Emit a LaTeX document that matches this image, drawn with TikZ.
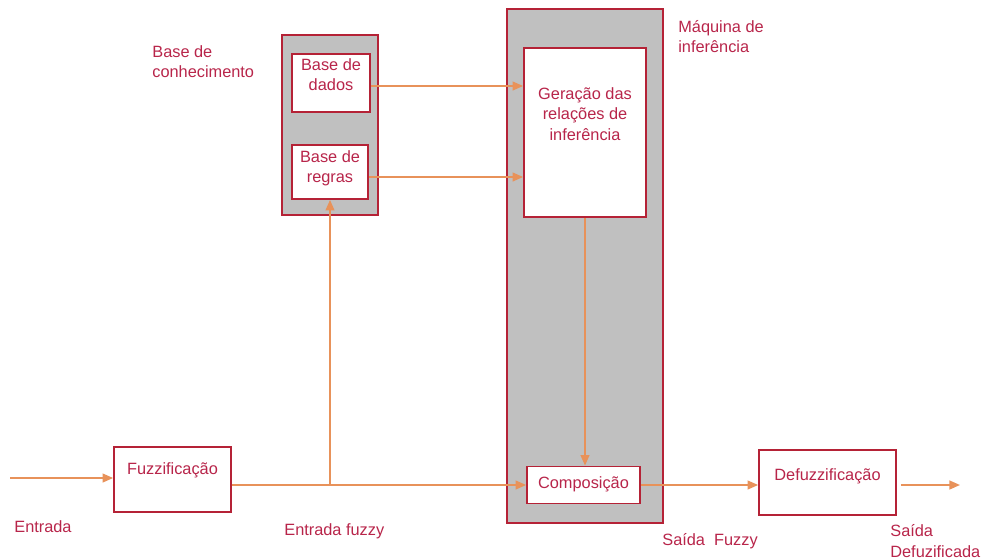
\documentclass[tikz,border=0pt]{standalone}
\usepackage{fontspec}
\setmainfont{Liberation Sans}
\usepackage{xcolor}
\usetikzlibrary{arrows.meta, positioning, calc}

\definecolor{txtred}{HTML}{B8254A}
\definecolor{boxred}{HTML}{B52236}
\definecolor{arrorange}{HTML}{E8925A}
\definecolor{panelgray}{HTML}{C0C0C0}

\tikzset{
    panel/.style={rectangle,draw=boxred,fill=panelgray,line width=1pt},
    block/.style={rectangle,draw=boxred,fill=white,line width=1pt},
    txt/.style={font=\fontsize{9.3}{11.5}\selectfont,text=txtred,align=center,inner sep=0pt},
    lbl/.style={txt,align=left,anchor=west},
    flow/.style={draw=arrorange,line width=1pt,-{Triangle[length=6pt,width=5pt]}}
}

\begin{document}
\begin{tikzpicture}[x=0.02cm,y=-0.02cm]
    \useasboundingbox (0,0) rectangle (983,558);

    % Base de conhecimento
    \node[panel,minimum width=1.92cm,minimum height=3.6cm] (kb) at (330,125) {};
    \node[block,minimum width=1.56cm,minimum height=1.16cm] (dados) at (331,83) {};
    \node[txt] at (331,75) {Base de\\dados};
    \node[block,minimum width=1.52cm,minimum height=1.08cm] (regras) at (330,172) {};
    \node[txt] at (330,168.5) {Base de\\regras};
    \node[lbl] at (152,61.5) {Base de\\conhecimento};

    % Maquina de inferencia
    \node[panel,minimum width=3.12cm,minimum height=10.28cm] (maq) at (585,266) {};
    \node[block,minimum width=2.44cm,minimum height=3.38cm] (geracao) at (585,132.5) {};
    \node[txt] at (585,114) {Geração das\\relações de\\inferência};
    \node[block,minimum width=2.26cm,minimum height=0.74cm] (compos) at (583.5,485) {};
    \node[txt] at (583.5,484) {Composição};
    \node[lbl] at (678,36.5) {Máquina de\\inferência};

    % Fuzzificacao / Defuzzificacao
    \node[block,minimum width=2.34cm,minimum height=1.3cm] (fuzz) at (172.5,479.5) {};
    \node[txt] at (172.5,470) {Fuzzificação};
    \node[block,minimum width=2.74cm,minimum height=1.3cm] (defuzz) at (827.5,482.5) {};
    \node[txt] at (827.5,476) {Defuzzificação};

    % Rotulos
    \node[lbl] at (14,527) {Entrada};
    \node[lbl] at (284,531) {Entrada fuzzy};
    \node[lbl] at (662,541) {Saída\ \ Fuzzy};
    \node[lbl] at (890,541) {Saída\\Defuzificada};

    % Conexoes
    \coordinate (entrada) at (10,478);
    \coordinate (junc) at (regras.south |- compos.west);
    \coordinate (saida) at (960,485);
    \draw[flow] (entrada) -- (fuzz.west |- entrada);
    \draw[flow] (fuzz.east |- compos.west) -- (compos.west);
    \draw[flow] (junc) -- (regras.south);
    \draw[flow] ([yshift=-0.06cm]dados.east) -- ([yshift=-0.06cm]dados.east -| geracao.west);
    \draw[flow] ([yshift=-0.1cm]regras.east) -- ([yshift=-0.1cm]regras.east -| geracao.west);
    \draw[flow] (geracao.south) -- (geracao.south |- compos.north);
    \draw[flow] (compos.east) -- (compos.east -| defuzz.west);
    \draw[flow] ([xshift=0.08cm]defuzz.east |- saida) -- (saida);
\end{tikzpicture}
\end{document}
